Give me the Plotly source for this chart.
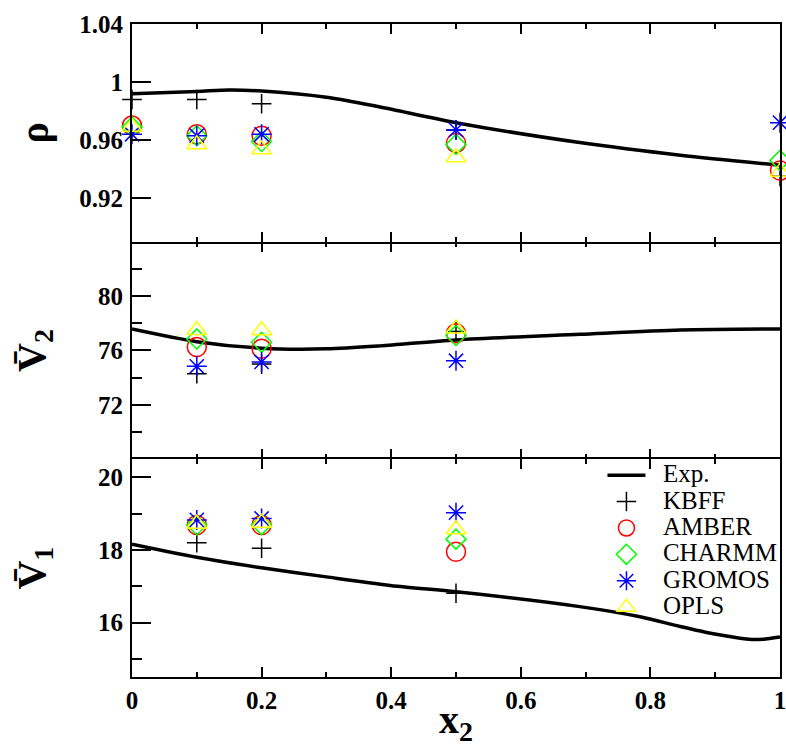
import plotly.graph_objects as go
from plotly.subplots import make_subplots

# ---------------- data ----------------
series_names = ["KBFF", "AMBER", "CHARMM", "GROMOS", "OPLS"]

# density (top panel)
x_rho = [0.0, 0.1, 0.2, 0.5, 1.0]
rho_kbff = [0.988, 0.988, 0.985, 0.967, 0.935]
rho_amber = [0.970, 0.964, 0.963, 0.958, 0.939]
rho_charmm = [0.969, 0.963, 0.959, 0.957, 0.946]
rho_gromos = [0.964, 0.963, 0.964, 0.967, 0.972]
rho_opls = [0.969, 0.957, 0.9535, 0.948, 0.938]

x_exp_rho = [0.0, 0.1, 0.15, 0.2, 0.3, 0.383, 0.5, 0.691, 0.846, 1.0]
rho_exp = [0.992, 0.9935, 0.9945, 0.9938, 0.9895, 0.9828, 0.972, 0.9583, 0.9496, 0.9427]

# partial molar volume of component 2 (middle panel)
x_v = [0.1, 0.2, 0.5]
v2_kbff = [74.3, 75.0, 77.4]
v2_amber = [76.25, 76.12, 77.26]
v2_charmm = [76.85, 76.6, 77.1]
v2_gromos = [74.84, 75.16, 75.25]
v2_opls = [77.5, 77.48, 77.6]

x_exp_v2 = [0.0, 0.1, 0.2, 0.3, 0.383, 0.5, 0.691, 0.846, 1.0]
v2_exp = [77.58, 76.65, 76.17, 76.12, 76.34, 76.78, 77.19, 77.5, 77.58]

# partial molar volume of component 1 (bottom panel)
v1_kbff = [18.2, 18.05, 16.81]
v1_amber = [18.69, 18.69, 17.95]
v1_charmm = [18.69, 18.7, 18.3]
v1_gromos = [18.83, 18.87, 19.03]
v1_opls = [18.72, 18.75, 18.57]

x_exp_v1 = [0.0, 0.1, 0.2, 0.3, 0.41, 0.5, 0.691, 0.784, 0.846, 0.897, 0.948, 0.974, 1.0]
v1_exp = [18.16, 17.80, 17.51, 17.26, 17.0, 16.85, 16.44, 16.16, 15.89, 15.69, 15.55, 15.54, 15.6]

# tick labels
x_tickvals = [0, 0.2, 0.4, 0.6, 0.8, 1]
x_ticktext = ["0", "0.2", "0.4", "0.6", "0.8", "1"]
rho_tickvals = [0.92, 0.96, 1.0, 1.04]
rho_ticktext = ["0.92", "0.96", "1", "1.04"]
v2_tickvals = [72, 76, 80]
v2_ticktext = ["72", "76", "80"]
v1_tickvals = [16, 18, 20]
v1_ticktext = ["16", "18", "20"]

# ---------------- styles ----------------
SERIF = "Liberation Serif, 'Times New Roman', Times, serif"

styles = {
    "KBFF": dict(symbol="cross-thin-open", color="black", size=14),
    "AMBER": dict(symbol="circle-open", color="#ff0000", size=19),
    "CHARMM": dict(symbol="diamond-open", color="#00ff00", size=15.4),
    "GROMOS": dict(symbol="asterisk-open", color="#0000ff", size=16.7),
    "OPLS": dict(symbol="triangle-up-open", color="#ffff00", size=17.3),
}

panels = [
    (1, x_exp_rho, rho_exp, x_rho, [rho_kbff, rho_amber, rho_charmm, rho_gromos, rho_opls]),
    (2, x_exp_v2, v2_exp, x_v, [v2_kbff, v2_amber, v2_charmm, v2_gromos, v2_opls]),
    (3, x_exp_v1, v1_exp, x_v, [v1_kbff, v1_amber, v1_charmm, v1_gromos, v1_opls]),
]

fig = make_subplots(rows=3, cols=1, shared_xaxes=True, vertical_spacing=0)

def lbl(s):
    return '<span style="font-size:25px">\u00a0\u00a0%s</span>' % s

for row, xe, ye, xs, ys_list in panels:
    fig.add_trace(go.Scatter(
        x=xe, y=ye, mode="lines", line=dict(color="black", width=3.5, shape="spline", smoothing=0.8),
        name=lbl("Exp."), legendgroup="exp", showlegend=(row == 3), cliponaxis=False,
        hoverinfo="skip"), row=row, col=1)
    for name, ys in zip(series_names, ys_list):
        st = styles[name]
        fig.add_trace(go.Scatter(
            x=xs, y=ys, mode="markers", name=lbl(name), legendgroup=name,
            showlegend=(row == 3), cliponaxis=False,
            marker=dict(symbol=st["symbol"], size=st["size"], color=st["color"],
                        line=dict(color=st["color"], width=1.5))), row=row, col=1)

tickfont = dict(family=SERIF, size=25, color="black", weight="bold")
titlefont = dict(family=SERIF, size=40, color="black", weight="bold")

common_y = dict(showline=True, linewidth=2, linecolor="black", mirror=True,
                ticks="inside", ticklen=19, tickwidth=2, tickcolor="black",
                tickfont=tickfont, showgrid=False, zeroline=False, ticklabelstandoff=2,
                automargin=False)

fig.update_yaxes(common_y)
fig.update_yaxes(row=1, col=1, range=[0.89, 1.04], tickvals=rho_tickvals, ticktext=rho_ticktext,
                 title=dict(text="ρ", font=titlefont, standoff=18))
fig.update_yaxes(row=2, col=1, range=[68, 84], tickvals=v2_tickvals, ticktext=v2_ticktext,
                 minor=dict(tickvals=[70, 74, 78, 82], ticks="inside", ticklen=10, tickwidth=2, tickcolor="black"),
                 title=dict(text="V\u0304<sub>2</sub>", font=titlefont, standoff=40))
fig.update_yaxes(row=3, col=1, range=[14.5, 20.5], tickvals=v1_tickvals, ticktext=v1_ticktext,
                 minor=dict(tickvals=[15, 17, 19], ticks="inside", ticklen=10, tickwidth=2, tickcolor="black"),
                 title=dict(text="V\u0304<sub>1</sub>", font=titlefont, standoff=40))

fig.update_xaxes(range=[0, 1], showline=True, linewidth=2, linecolor="black", mirror="ticks",
                 ticks="inside", ticklen=10, tickwidth=2, tickcolor="black",
                 tickvals=x_tickvals, ticktext=x_ticktext, tickfont=tickfont,
                 ticklabeloverflow="allow",
                 minor=dict(tickvals=[0.1, 0.3, 0.5, 0.7, 0.9], ticks="inside", ticklen=5,
                            tickwidth=2, tickcolor="black"),
                 showgrid=False, zeroline=False, automargin=False)
# middle panel: no own border lines (shared with neighbours), ticks kept on both sides
fig.update_xaxes(row=2, col=1, showline=False)
fig.update_xaxes(row=3, col=1, title=dict(text="x<sub>2</sub>", font=titlefont, standoff=6))

fig.update_layout(
    width=786, height=747,
    margin=dict(l=132, r=6, t=24, b=70, autoexpand=False),
    paper_bgcolor="white", plot_bgcolor="white",
    showlegend=True,
    legend=dict(x=0.726, y=0.337, xanchor="left", yanchor="top", bgcolor="rgba(0,0,0,0)",
                font=dict(family=SERIF, size=18, color="black"),
                itemwidth=38, tracegroupgap=0, traceorder="normal"),
)

fig.write_html("out.html")
